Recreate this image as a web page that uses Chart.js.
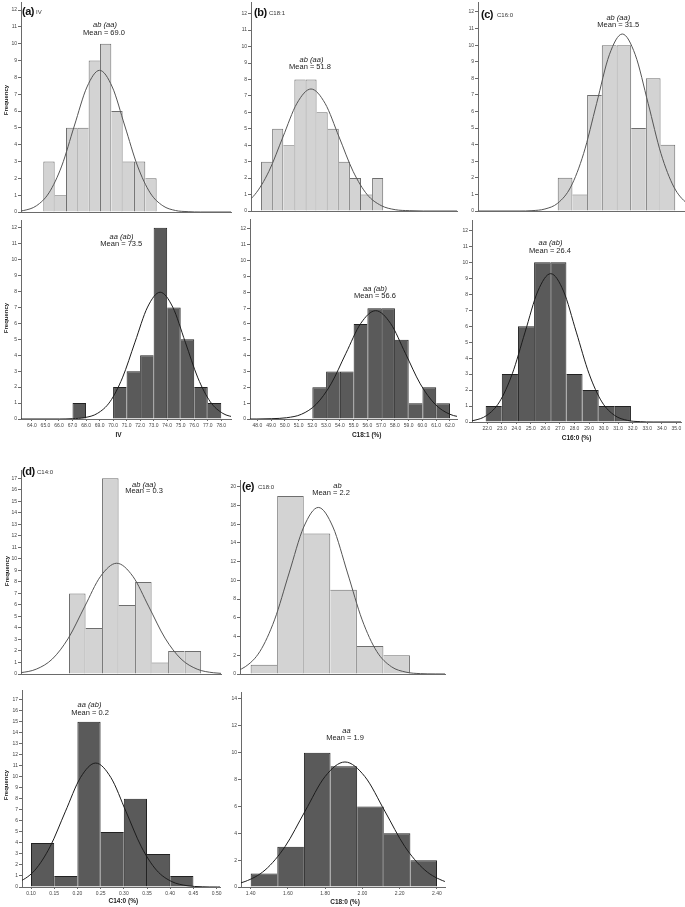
<!DOCTYPE html>
<html>
<head>
<meta charset="utf-8">
<script src="https://cdn.jsdelivr.net/npm/chart.js@4.4.0/dist/chart.umd.min.js"></script>
<style>
  body { margin: 0; background: #fff; width: 685px; height: 907px; position: relative; overflow: hidden;
         font-family: "Liberation Sans", Arial, sans-serif; }
  canvas { position: absolute; }
  .t { position: absolute; white-space: nowrap; line-height: 1; color: #222; }
  .c { transform: translate(-50%, -50%); }
  .l { transform: translateY(-50%); }
  .tag { font-weight: bold; font-size: 11px; letter-spacing: -0.5px; color: #111; }
  .sub { font-size: 6px; color: #333; }
  .ann { font-size: 7.5px; color: #222; }
  .it { font-style: italic; }
  .ax { font-weight: bold; font-size: 6.5px; color: #222; }
  .freq { font-weight: bold; font-size: 6px; color: #222; transform: translate(-50%, -50%) rotate(-90deg); }
</style>
</head>
<body>
<script>
// (a) IV
const ivTopStart = 64.84, ivTopWidth = 0.838;
const ivTopCounts = [3, 1, 5, 5, 9, 10, 6, 3, 3, 2];
const ivTopCurveX = [61.52, 62.46, 63.39, 64.33, 65.26, 66.20, 67.13, 68.07, 69.00, 69.94, 70.87, 71.81, 72.74, 73.68, 74.61, 75.55, 76.48, 79];
const ivTopCurveY = [0.00, 0.02, 0.09, 0.37, 1.14, 2.73, 5.11, 7.43, 8.42, 7.43, 5.11, 2.73, 1.14, 0.37, 0.09, 0.02, 0.00, 0];
const ivBotStart = 64, ivBotWidth = 1;
const ivBotCounts = [0, 0, 0, 1, 0, 0, 2, 3, 4, 12, 7, 5, 2, 1];
const ivBotCurveX = [63, 66.05, 66.98, 67.91, 68.84, 69.77, 70.69, 71.62, 72.55, 73.48, 74.41, 75.34, 76.27, 77.19, 78.12, 79.05];
const ivBotCurveY = [0, 0.00, 0.02, 0.09, 0.35, 1.08, 2.58, 4.82, 7.02, 7.95, 7.02, 4.82, 2.58, 1.08, 0.35, 0.09];
const ivTicks = [64, 65, 66, 67, 68, 69, 70, 71, 72, 73, 74, 75, 76, 77, 78];

// (b) C18:1
const c181TopStart = 48.27, c181TopWidth = 0.807;
const c181TopCounts = [3, 5, 4, 8, 8, 6, 5, 3, 2, 1, 2];
const c181TopCurveX = [43.74, 44.76, 45.78, 46.80, 47.82, 48.84, 49.86, 50.88, 51.90, 52.92, 53.94, 54.96, 55.98, 57.00, 58.02, 59.04, 60.06, 63];
const c181TopCurveY = [0.00, 0.02, 0.08, 0.33, 1.00, 2.41, 4.50, 6.55, 7.42, 6.55, 4.50, 2.41, 1.00, 0.33, 0.08, 0.02, 0.00, 0];
const c181BotStart = 48, c181BotWidth = 1;
const c181BotCounts = [0, 0, 0, 0, 2, 3, 3, 6, 7, 7, 5, 1, 2, 1];
const c181BotCurveX = [47, 47.97, 49.05, 50.13, 51.21, 52.28, 53.36, 54.44, 55.52, 56.60, 57.68, 58.76, 59.84, 60.92, 61.99, 63.07];
const c181BotCurveY = [0, 0.00, 0.02, 0.08, 0.30, 0.93, 2.22, 4.15, 6.04, 6.84, 6.04, 4.15, 2.22, 0.93, 0.30, 0.08];
const c181Ticks = [48, 49, 50, 51, 52, 53, 54, 55, 56, 57, 58, 59, 60, 61, 62];

// (c) C16:0
const c160TopStart = 27.06, c160TopWidth = 1.01;
const c160TopCounts = [2, 1, 7, 10, 10, 5, 8, 4];
const c160TopCurveX = [21, 24.40, 25.29, 26.18, 27.06, 27.95, 28.84, 29.73, 30.61, 31.50, 32.39, 33.28, 34.16, 35.05, 35.94, 36.83];
const c160TopCurveY = [0, 0.00, 0.02, 0.12, 0.47, 1.44, 3.46, 6.47, 9.42, 10.67, 9.42, 6.47, 3.46, 1.44, 0.47, 0.12];
const c160BotStart = 21.89, c160BotWidth = 1.11;
const c160BotCounts = [1, 3, 6, 10, 10, 3, 2, 1, 1];
const c160BotCurveX = [19.32, 20.20, 21.08, 21.96, 22.84, 23.72, 24.60, 25.48, 26.36, 27.24, 28.12, 29.00, 29.88, 30.76, 31.64, 32.52, 33.40, 36];
const c160BotCurveY = [0.00, 0.02, 0.10, 0.41, 1.26, 3.02, 5.63, 8.20, 9.29, 8.20, 5.63, 3.02, 1.26, 0.41, 0.10, 0.02, 0.00, 0];
const c160Ticks = [22, 23, 24, 25, 26, 27, 28, 29, 30, 31, 32, 33, 34, 35];

// (d) C14:0
const c140TopStart = 0.1819, c140TopWidth = 0.0356;
const c140TopCounts = [7, 4, 17, 6, 8, 1, 2, 2];
const c140TopCurveX = [0.0418, 0.0765, 0.1112, 0.1459, 0.1806, 0.2153, 0.2500, 0.2847, 0.3194, 0.3541, 0.3888, 0.4235, 0.4582, 0.4929, 0.5276];
const c140TopCurveY = [0.02, 0.11, 0.42, 1.30, 3.12, 5.83, 8.49, 9.62, 8.49, 5.83, 3.12, 1.30, 0.42, 0.11, 0.02];
const c140BotStart = 0.10, c140BotWidth = 0.05;
const c140BotCounts = [4, 1, 15, 5, 8, 3, 1];
const c140BotCurveX = [0.0098, 0.0426, 0.0754, 0.1082, 0.1410, 0.1738, 0.2066, 0.2394, 0.2722, 0.3050, 0.3378, 0.3706, 0.4034, 0.4362, 0.4690, 0.5018, 0.52];
const c140BotCurveY = [0.02, 0.12, 0.49, 1.52, 3.65, 6.82, 9.93, 11.25, 9.93, 6.82, 3.65, 1.52, 0.49, 0.12, 0.02, 0.00, 0];
const c140Ticks = [0.10, 0.15, 0.20, 0.25, 0.30, 0.35, 0.40, 0.45, 0.50];

// (e) C18:0
const c180TopStart = 1.69, c180TopWidth = 0.2;
const c180TopCounts = [1, 19, 15, 9, 3, 2];
const c180TopCurveX = [1.32, 1.43, 1.54, 1.65, 1.76, 1.87, 1.98, 2.09, 2.20, 2.31, 2.42, 2.53, 2.64, 2.75, 2.86, 2.97, 3.08, 3.2];
const c180TopCurveY = [0.01, 0.04, 0.20, 0.78, 2.41, 5.78, 10.79, 15.70, 17.79, 15.70, 10.79, 5.78, 2.41, 0.78, 0.20, 0.04, 0.01, 0];
const c180BotStart = 1.40, c180BotWidth = 1 / 7;
const c180BotCounts = [1, 3, 10, 9, 6, 4, 2];
const c180BotCurveX = [1.049, 1.156, 1.263, 1.370, 1.477, 1.585, 1.692, 1.799, 1.906, 2.013, 2.120, 2.227, 2.335, 2.442, 2.549];
const c180BotCurveY = [0.00, 0.02, 0.10, 0.41, 1.26, 3.02, 5.65, 8.22, 9.31, 8.22, 5.65, 3.02, 1.26, 0.41, 0.10];
const c180Ticks = [1.4, 1.6, 1.8, 2.0, 2.2, 2.4];

// layout of every panel: plot box in page px [left, top, right, bottom] and axis range
const panels = [
  { box: [21, 2, 231, 212], xr: [63.19, 78.72], yMax: 12.48, yStep: 1, start: ivTopStart, width: ivTopWidth, counts: ivTopCounts, cx: ivTopCurveX, cy: ivTopCurveY, dark: false },
  { box: [21, 220, 231, 419], xr: [63.19, 78.72], yMax: 12.48, yStep: 1, start: ivBotStart, width: ivBotWidth, counts: ivBotCounts, cx: ivBotCurveX, cy: ivBotCurveY, dark: true, ticks: ivTicks, dec: 1 },
  { box: [251, 2, 457, 211], xr: [47.54, 62.51], yMax: 12.71, yStep: 1, start: c181TopStart, width: c181TopWidth, counts: c181TopCounts, cx: c181TopCurveX, cy: c181TopCurveY, dark: false },
  { box: [250, 219, 457, 419], xr: [47.47, 62.51], yMax: 12.63, yStep: 1, start: c181BotStart, width: c181BotWidth, counts: c181BotCounts, cx: c181BotCurveX, cy: c181BotCurveY, dark: true, ticks: c181Ticks, dec: 1 },
  { box: [478, 2, 685, 211], xr: [21.58, 35.81], yMax: 12.6, yStep: 1, start: c160TopStart, width: c160TopWidth, counts: c160TopCounts, cx: c160TopCurveX, cy: c160TopCurveY, dark: false },
  { box: [472, 220, 681, 422], xr: [20.95, 35.32], yMax: 12.65, yStep: 1, start: c160BotStart, width: c160BotWidth, counts: c160BotCounts, cx: c160BotCurveX, cy: c160BotCurveY, dark: true, ticks: c160Ticks, dec: 1 },
  { box: [21, 470, 221, 674], xr: [0.0784, 0.5095], yMax: 17.72, yStep: 1, start: c140TopStart, width: c140TopWidth, counts: c140TopCounts, cx: c140TopCurveX, cy: c140TopCurveY, dark: false },
  { box: [22, 690, 220, 887], xr: [0.0806, 0.5073], yMax: 17.88, yStep: 1, start: c140BotStart, width: c140BotWidth, counts: c140BotCounts, cx: c140BotCurveX, cy: c140BotCurveY, dark: true, ticks: c140Ticks, dec: 2 },
  { box: [240, 480, 445, 674], xr: [1.61, 3.154], yMax: 20.72, yStep: 2, start: c180TopStart, width: c180TopWidth, counts: c180TopCounts, cx: c180TopCurveX, cy: c180TopCurveY, dark: false },
  { box: [241, 692, 445, 887], xr: [1.348, 2.443], yMax: 14.52, yStep: 2, start: c180BotStart, width: c180BotWidth, counts: c180BotCounts, cx: c180BotCurveX, cy: c180BotCurveY, dark: true, ticks: c180Ticks, dec: 2 }
];

const axisColor = '#6a6a6a';
const tickFont = { family: '"Liberation Sans", Arial, sans-serif', size: 5 };

function makeChart(p) {
  const yw = 20, padT = 8, padR = 8, padB = 4;
  const xh = p.ticks ? 12 : 2;
  const cv = document.createElement('canvas');
  cv.width = p.box[2] - p.box[0] + yw + padR;
  cv.height = p.box[3] - p.box[1] + padT + xh + padB;
  cv.style.left = (p.box[0] - yw) + 'px';
  cv.style.top = (p.box[1] - padT) + 'px';
  document.body.appendChild(cv);

  const bars = p.counts.map((c, i) => ({ x: p.start + p.width * (i + 0.5), y: c }));
  const curve = p.cx.map((x, i) => ({ x: x, y: p.cy[i] }));

  // only the taller of two neighbouring bars draws the shared edge
  const edges = (ctx) => {
    const i = ctx.dataIndex, c = p.counts;
    const prev = i > 0 ? c[i - 1] : 0;
    const next = i < c.length - 1 ? c[i + 1] : 0;
    return { top: 1, bottom: 0, left: c[i] >= prev ? 1 : 0, right: c[i] > next ? 1 : 0 };
  };

  new Chart(cv, {
    type: 'bar',
    data: {
      datasets: [
        {
          type: 'line', data: curve, borderColor: p.dark ? '#1c1c1c' : '#555',
          borderWidth: 1, pointRadius: 0, cubicInterpolationMode: 'monotone', fill: false
        },
        {
          type: 'bar', data: bars,
          backgroundColor: p.dark ? '#5a5a5a' : '#d3d3d3',
          borderColor: p.dark ? '#222' : '#6e6e6e',
          borderWidth: edges, borderSkipped: false, inflateAmount: 0,
          barThickness: 'flex', categoryPercentage: 1, barPercentage: 1
        }
      ]
    },
    options: {
      responsive: false,
      animation: false,
      events: [],
      layout: { padding: { left: 0, top: padT, right: padR, bottom: padB } },
      plugins: { legend: { display: false }, tooltip: { enabled: false } },
      scales: {
        x: {
          type: 'linear', min: p.xr[0], max: p.xr[1], offset: false,
          grid: { drawOnChartArea: false, drawTicks: !!p.ticks, tickLength: 2, color: axisColor, offset: false },
          border: { color: axisColor, width: 1 },
          ticks: {
            display: !!p.ticks, autoSkip: false, maxRotation: 0, minRotation: 0, padding: 2,
            font: tickFont, color: '#444',
            callback: (v) => Number(v).toFixed(p.dec || 0)
          },
          afterBuildTicks: (s) => { if (p.ticks) s.ticks = p.ticks.map(v => ({ value: v })); },
          afterFit: (s) => { s.height = xh; }
        },
        y: {
          min: 0, max: p.yMax,
          grid: { drawOnChartArea: false, drawTicks: true, tickLength: 3, color: axisColor },
          border: { color: axisColor, width: 1 },
          ticks: { stepSize: p.yStep, padding: 1, font: tickFont, color: '#444' },
          afterBuildTicks: (s) => {
            s.ticks = s.ticks.filter(t => Math.abs(t.value / p.yStep - Math.round(t.value / p.yStep)) < 1e-6);
          },
          afterFit: (s) => { s.width = yw; }
        }
      }
    }
  });
}

panels.forEach(makeChart);

// texts: [text, x, y, classes]
const texts = [
  ['(a)', 22, 10.5, 't l tag'], ['IV', 36, 11.5, 't l sub'],
  ['(b)', 254, 12, 't l tag'], ['C18:1', 269, 13, 't l sub'],
  ['(c)', 481, 14, 't l tag'], ['C16:0', 497, 15, 't l sub'],
  ['(d)', 22, 471, 't l tag'], ['C14:0', 37, 471.5, 't l sub'],
  ['(e)', 242, 486, 't l tag'], ['C18:0', 258, 486.5, 't l sub'],

  ['ab (aa)', 105, 24.5, 't c ann it'], ['Mean = 69.0', 104, 32.7, 't c ann'],
  ['aa (ab)', 121.5, 236.7, 't c ann it'], ['Mean = 73.5', 121.3, 244, 't c ann'],
  ['ab (aa)', 311.5, 59.7, 't c ann it'], ['Mean = 51.8', 310, 66.7, 't c ann'],
  ['aa (ab)', 375, 288.7, 't c ann it'], ['Mean = 56.6', 375, 295.7, 't c ann'],
  ['ab (aa)', 618.3, 17.8, 't c ann it'], ['Mean = 31.5', 618.3, 24.5, 't c ann'],
  ['aa (ab)', 550.5, 243.3, 't c ann it'], ['Mean = 26.4', 550, 251.3, 't c ann'],
  ['ab (aa)', 144, 484.5, 't c ann it'], ['Mean = 0.3', 144, 490.8, 't c ann'],
  ['aa (ab)', 89.5, 705, 't c ann it'], ['Mean = 0.2', 90, 713, 't c ann'],
  ['ab', 337.5, 485.8, 't c ann it'], ['Mean = 2.2', 331, 493.3, 't c ann'],
  ['aa', 346.5, 730.8, 't c ann it'], ['Mean = 1.9', 345, 738.3, 't c ann'],

  ['IV', 118.5, 435, 't c ax'], ['C18:1 (%)', 366.7, 434.7, 't c ax'],
  ['C16:0 (%)', 576.5, 437.5, 't c ax'], ['C14:0 (%)', 123.3, 901, 't c ax'],
  ['C18:0 (%)', 345, 901.7, 't c ax'],

  ['Frequency', 6, 100, 't freq'], ['Frequency', 6, 318, 't freq'],
  ['Frequency', 6.7, 571, 't freq'], ['Frequency', 5.5, 784.5, 't freq']
];

texts.forEach(([txt, x, y, cls]) => {
  const d = document.createElement('div');
  d.className = cls;
  d.textContent = txt;
  d.style.left = x + 'px';
  d.style.top = y + 'px';
  document.body.appendChild(d);
});
</script>
</body>
</html>
